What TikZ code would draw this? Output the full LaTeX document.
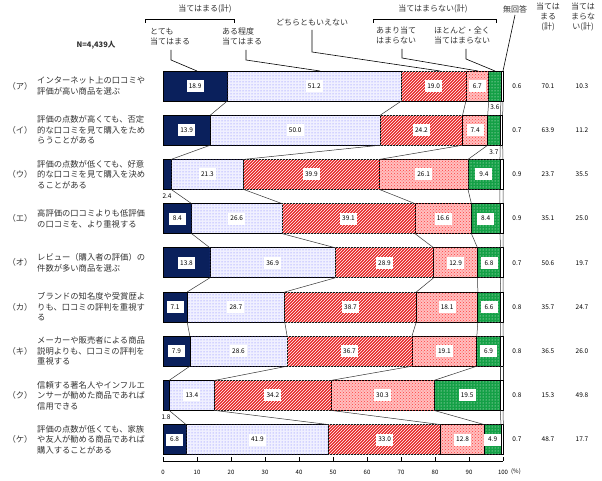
\documentclass[tikz,border=0pt]{standalone}
\usepackage{fontspec}
\setmainfont{Noto Sans CJK JP}
\usetikzlibrary{patterns}
\definecolor{navy}{RGB}{10,32,92}
\definecolor{txt}{RGB}{50,50,50}
\tikzset{
 segbase/.style={draw=black,line width=0.7pt},
 seg1/.style={segbase,fill=navy},
 seg2/.style={segbase,fill=blue!6,postaction={pattern=dots,pattern color=blue!55}},
 seg3/.style={segbase,fill={rgb,255:red,232;green,40;blue,40},postaction={pattern=north east lines,pattern color=white}},
 seg4/.style={segbase,fill=red!25,postaction={pattern=crosshatch dots,pattern color=red!75}},
 seg5/.style={segbase,fill={rgb,255:red,20;green,160;blue,70},postaction={pattern=dots,pattern color=white}},
 seg6/.style={segbase,fill=white},
 lblin/.style={fill=white,inner sep=1.5pt,minimum width=17pt,minimum height=12pt,font=\fontsize{6.5}{7}\selectfont},
 lblout/.style={inner sep=1pt,font=\fontsize{6.5}{7}\selectfont},
 colnum/.style={font=\fontsize{6.5}{7}\selectfont},
 rowtxt/.style={anchor=west,align=left,text=txt,font=\fontsize{8.3}{10.5}\selectfont,inner sep=0pt},
 rowid/.style={text=txt,font=\fontsize{8.3}{10}\selectfont,inner sep=0pt},
 hdr/.style={text=txt,font=\fontsize{8}{10}\selectfont,inner sep=0pt,align=left},
 conn/.style={line width=0.5pt,draw=black!80},
 lead/.style={line width=0.6pt,draw=black}
}
\newcommand\barrow[9]{%
 \pgfmathsetmacro\yc{86+44.2*(#1-1)}%
 \pgfmathsetmacro\ya{\yc-15}\pgfmathsetmacro\yb{\yc+15}%
 \foreach \v [count=\k, remember=\cn as \cp (initially 0)] in {#2,#3,#4,#5,#6,#7} {%
   \pgfmathsetmacro\cn{\cp+\v}%
   \pgfmathsetmacro\xa{163+3.4*\cp}\pgfmathsetmacro\xb{163+3.4*\cn}%
   \pgfmathsetmacro\xm{(\xa+\xb)/2}%
   \path[seg\k] (\xa,\ya) rectangle (\xb,\yb);
   \coordinate (r#1t\k) at (\xb,\ya);
   \coordinate (r#1b\k) at (\xb,\yb);
   \ifnum\k<6
     \ifdim\v pt<4pt
       \node[lblout] (r#1l\k) at (\xm,\yb+6.5) {\v};
     \else
       \node[lblin] (r#1l\k) at (\xm,\yc) {\v};
     \fi
   \else
     \node[colnum] (r#1l\k) at (517,\yc) {\v};
   \fi
 }
 \coordinate (r#1t0) at (163,\ya);
 \coordinate (r#1b0) at (163,\yb);
 \node[colnum] (r#1s1) at (548,\yc) {#8};
 \node[colnum] (r#1s2) at (582,\yc) {#9};
}
\begin{document}
\begin{tikzpicture}[x=1pt,y=-1pt]
\useasboundingbox (0,0) rectangle (602,481);
% header
\node[hdr] (h1) at (205,9) {当てはまる(計)};
\draw[lead] (145,23) -- (145,19) -- (234,19) -- (234,23);
\node[hdr,anchor=north west] (h11) at (150,28) {とても\\当てはまる};
\node[hdr,anchor=north west] (h12) at (222,28) {ある程度\\当てはまる};
\node[hdr,anchor=west] (h2) at (276,23) {どちらともいえない};
\node[hdr] (h3) at (433,9) {当てはまらない(計)};
\draw[lead] (373,23) -- (373,19) -- (496,19) -- (496,23);
\node[hdr,anchor=north west] (h31) at (376,27) {あまり当て\\はまらない};
\node[hdr,anchor=north west] (h32) at (434,27) {ほとんど・全く\\当てはまらない};
\node[hdr] (h4) at (515,9) {無回答};
\node[hdr,align=center,anchor=north] (h5) at (548,3) {当ては\\まる\\(計)};
\node[hdr,align=center,anchor=north] (h6) at (583,3) {当ては\\まらな\\い(計)};
\node[hdr,font=\fontsize{7.5}{9}\selectfont\bfseries] (hn) at (96,45) {N=4,439人};
% rows
\barrow{1}{18.9}{51.2}{19.0}{6.7}{3.6}{0.6}{70.1}{10.3}
\barrow{2}{13.9}{50.0}{24.2}{7.4}{3.7}{0.7}{63.9}{11.2}
\barrow{3}{2.4}{21.3}{39.9}{26.1}{9.4}{0.9}{23.7}{35.5}
\barrow{4}{8.4}{26.6}{39.1}{16.6}{8.4}{0.9}{35.1}{25.0}
\barrow{5}{13.8}{36.9}{28.9}{12.9}{6.8}{0.7}{50.6}{19.7}
\barrow{6}{7.1}{28.7}{38.7}{18.1}{6.6}{0.8}{35.7}{24.7}
\barrow{7}{7.9}{28.6}{36.7}{19.1}{6.9}{0.8}{36.5}{26.0}
\barrow{8}{1.8}{13.4}{34.2}{30.3}{19.5}{0.8}{15.3}{49.8}
\barrow{9}{6.8}{41.9}{33.0}{12.8}{4.9}{0.7}{48.7}{17.7}
% connectors
\foreach \i in {1,...,8} {
  \pgfmathtruncatemacro\j{\i+1}
  \foreach \k in {1,...,6} { \draw[conn] (r\i b\k) -- (r\j t\k); }
}
% leaders
\draw[lead] (171,50) -- (171,60) -- (r1t0 -| 197,0);
\draw[lead] (246,50) -- (246,60) -- (r1t0 -| 320,0);
\draw[lead] (312,30) -- (312,52) -- (r1t0 -| 440,0);
\draw[lead] (402,49) -- (402,58) -- (r1t0 -| 478,0);
\draw[lead] (466,49) -- (466,59) -- (r1t0 -| 495,0);
\draw[lead] (515,15) -- (r1t6);
% left labels
\foreach \i/\id/\t in {
 1/ア/{インターネット上の口コミや\\評価が高い商品を選ぶ},
 2/イ/{評価の点数が高くても、否定\\的な口コミを見て購入をため\\らうことがある},
 3/ウ/{評価の点数が低くても、好意\\的な口コミを見て購入を決め\\ることがある},
 4/エ/{高評価の口コミよりも低評価\\の口コミを、より重視する},
 5/オ/{レビュー（購入者の評価）の\\件数が多い商品を選ぶ},
 6/カ/{ブランドの知名度や受賞歴よ\\りも、口コミの評判を重視す\\る},
 7/キ/{メーカーや販売者による商品\\説明よりも、口コミの評判を\\重視する},
 8/ク/{信頼する著名人やインフルエ\\ンサーが勧めた商品であれば\\信用できる},
 9/ケ/{評価の点数が低くても、家族\\や友人が勧める商品であれば\\購入することがある}} {
  \pgfmathsetmacro\yc{86+44.2*(\i-1)}
  \node[rowid] (id\i) at (20,\yc) {（\id）};
  \node[rowtxt] (tx\i) at (37,\yc) {\t};
}
% axis
\coordinate (ax0) at (163,461);
\coordinate (ax1) at (503,461);
\draw[line width=0.6pt] (ax0) -- (ax1);
\foreach \p in {0,10,...,100} {
  \draw[line width=0.6pt] (163+3.4*\p,457) -- (163+3.4*\p,461);
  \node[colnum,font=\fontsize{6}{7}\selectfont] (tk\p) at (163+3.4*\p,472) {\p};
}
\node[colnum,font=\fontsize{6}{7}\selectfont] (pct) at (516,472) {(\%)};
\end{tikzpicture}
\end{document}
